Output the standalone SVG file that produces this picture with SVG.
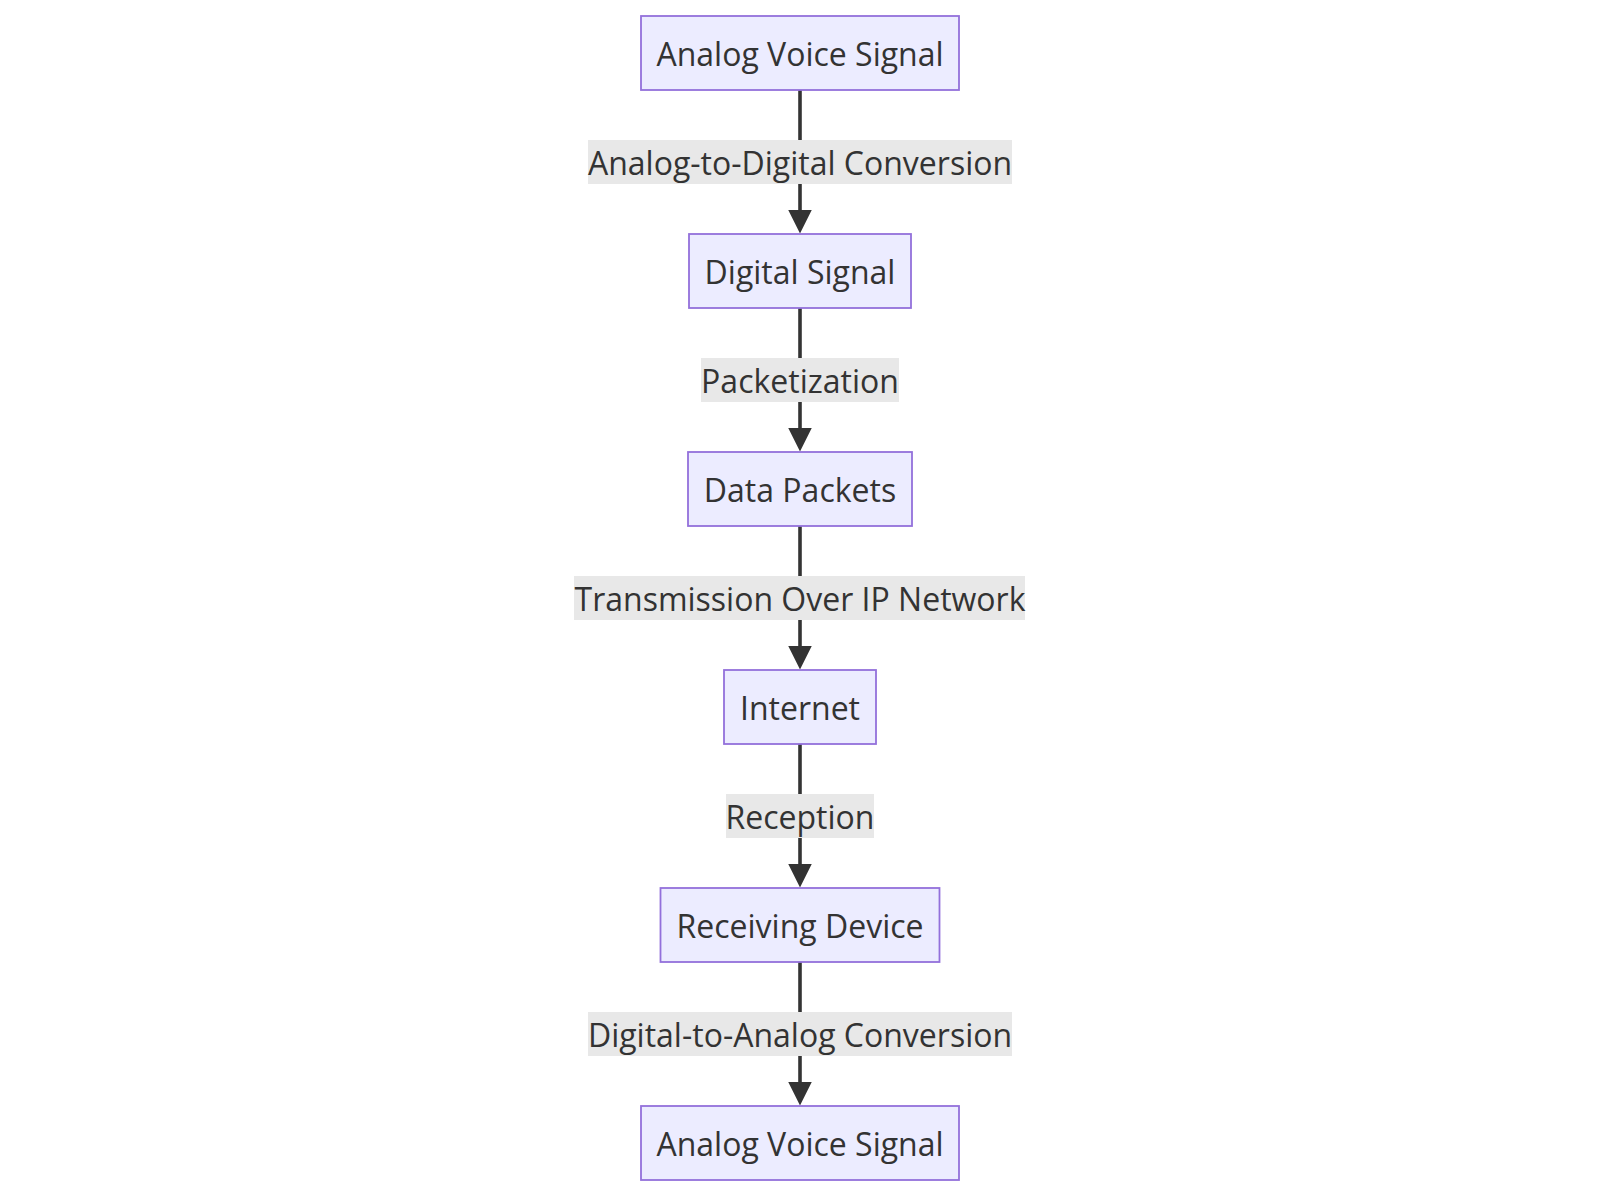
<svg xmlns="http://www.w3.org/2000/svg" width="1600" height="1196" viewBox="0 0 1600 1196">
<style>
.node rect{fill:#ECECFF;stroke:#9370DB;stroke-width:1.8}
.node text,.lbl text{font-family:"Open Sans","Noto Sans","DejaVu Sans",sans-serif;font-size:32px;fill:#333;text-anchor:middle}
.lbl rect{fill:#e8e8e8}
.edge{stroke:#333;stroke-width:3.6;fill:none}
</style>
<defs>
<marker id="arr" markerUnits="userSpaceOnUse" markerWidth="24" markerHeight="24" viewBox="0 0 24 24" refX="4" refY="12" orient="auto">
<path d="M0,0 L24,12 L0,24 z" fill="#333"/>
</marker>
</defs>
<rect width="1600" height="1196" fill="#fff"/>
<g id="connectors">
<line class="edge" x1="800" y1="90" x2="800" y2="213.5" marker-end="url(#arr)"/>
<line class="edge" x1="800" y1="308" x2="800" y2="431.5" marker-end="url(#arr)"/>
<line class="edge" x1="800" y1="526" x2="800" y2="649.5" marker-end="url(#arr)"/>
<line class="edge" x1="800" y1="744" x2="800" y2="867.5" marker-end="url(#arr)"/>
<line class="edge" x1="800" y1="962" x2="800" y2="1085.5" marker-end="url(#arr)"/>
<g class="lbl" id="l1"><rect x="588" y="140" width="424" height="44"/><text x="800" y="174.5">Analog-to-Digital Conversion</text></g>
<g class="lbl" id="l2"><rect x="701" y="358" width="198" height="44"/><text x="800" y="392.5">Packetization</text></g>
<g class="lbl" id="l3"><rect x="574" y="576" width="451" height="44"/><text x="800" y="610.5">Transmission Over IP Network</text></g>
<g class="lbl" id="l4"><rect x="726" y="794" width="148" height="44"/><text x="800" y="828.5">Reception</text></g>
<g class="lbl" id="l5"><rect x="588" y="1012" width="424" height="44"/><text x="800" y="1046.5">Digital-to-Analog Conversion</text></g>
</g>
<g class="node" id="n1"><rect x="641" y="16" width="318" height="74"/><text x="800" y="65.5">Analog Voice Signal</text></g>
<g class="node" id="n2"><rect x="689" y="234" width="222" height="74"/><text x="800" y="283.5">Digital Signal</text></g>
<g class="node" id="n3"><rect x="688" y="452" width="224" height="74"/><text x="800" y="501.5">Data Packets</text></g>
<g class="node" id="n4"><rect x="724" y="670" width="152" height="74"/><text x="800" y="719.5">Internet</text></g>
<g class="node" id="n5"><rect x="660.5" y="888" width="279" height="74"/><text x="800" y="937.5">Receiving Device</text></g>
<g class="node" id="n6"><rect x="641" y="1106" width="318" height="74"/><text x="800" y="1155.5">Analog Voice Signal</text></g>
</svg>
